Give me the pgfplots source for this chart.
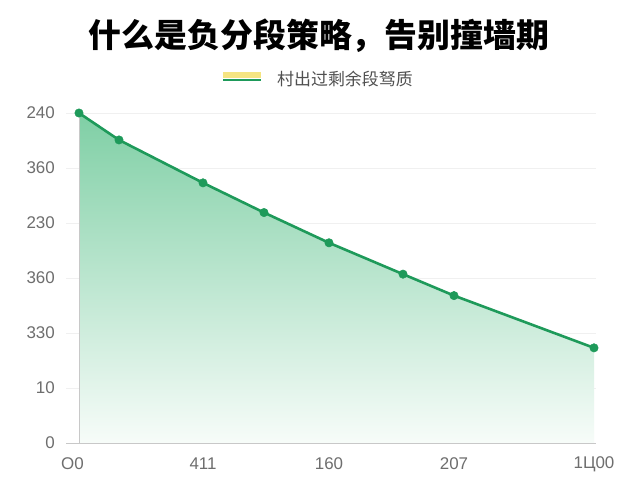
\documentclass[border=0pt]{standalone}
\usepackage{fontspec}
\usepackage{pgfplots}
\pgfplotsset{compat=1.18}
\setmainfont{Liberation Sans}
\newfontfamily\cjk{Noto Sans CJK SC}
\definecolor{lineGreen}{RGB}{30,154,90}
\definecolor{fillTop}{RGB}{127,207,165}
\definecolor{fillBot}{RGB}{247,252,249}
\definecolor{gridc}{RGB}{240,240,240}
\definecolor{basec}{RGB}{200,200,200}
\definecolor{tickc}{RGB}{110,110,110}
\definecolor{legY}{RGB}{245,228,130}
\begin{document}
\begin{tikzpicture}
\fill[white] (0,0) rectangle (640bp,480bp);
\node[font=\cjk\bfseries\fontsize{33}{38}\selectfont, text=black] at (319bp,444bp) {什么是负分段策略，告别撞墙期};
\fill[legY] (223bp,402bp) rectangle (261bp,408bp);
\draw[lineGreen, line width=2bp] (223bp,399.5bp) -- (261bp,399.5bp);
\node[anchor=west, inner sep=0pt, font=\cjk\fontsize{17}{20}\selectfont, text={rgb,255:red,80;green,80;blue,80}] at (277bp,401bp) {村出过剩余段驽质};
\begin{axis}[
  at={(66bp,37bp)}, anchor=south west,
  scale only axis, width=530bp, height=330bp,
  xmin=-13, xmax=517, ymin=0, ymax=6,
  axis line style={draw=none},
  major tick length=0pt,
  ymajorgrids, grid style={gridc, line width=0.8bp},
  ytick={0,1,2,3,4,5,6},
  yticklabels={0,10,330,360,230,360,240},
  xtick={0,124,250,375,515},
  xticklabels={{\kern-6.5bp O0\kern6.5bp},411,160,207,1Ц00},
  /pgf/number format/assume math mode=true,
  ticklabel style={font=\fontsize{17}{20}\selectfont, text=tickc},
  yticklabel style={anchor=east, inner sep=0pt, xshift=-11bp},
  xticklabel style={anchor=center, inner sep=0pt, yshift=-21bp},
  clip=false,
]
\addplot[draw=none, top color=fillTop, bottom color=fillBot] coordinates {
(0,6.0)(40,5.51)(124,4.73)(185,4.19)(250,3.64)(324,3.07)(375,2.68)(515,1.73)
} \closedcycle;
\draw[basec, line width=0.8bp] (axis cs:-13,0) -- (axis cs:517,0);
\draw[basec, line width=0.8bp] (axis cs:0,0) -- (axis cs:0,6.0);
\addplot[lineGreen, line width=2.6bp, mark=*, mark size=4.2bp, mark options={fill=lineGreen, draw=lineGreen, line width=0.5bp}] coordinates {
(0,6.0)(40,5.51)(124,4.73)(185,4.19)(250,3.64)(324,3.07)(375,2.68)(515,1.73)
};
\end{axis}
\end{tikzpicture}
\end{document}
